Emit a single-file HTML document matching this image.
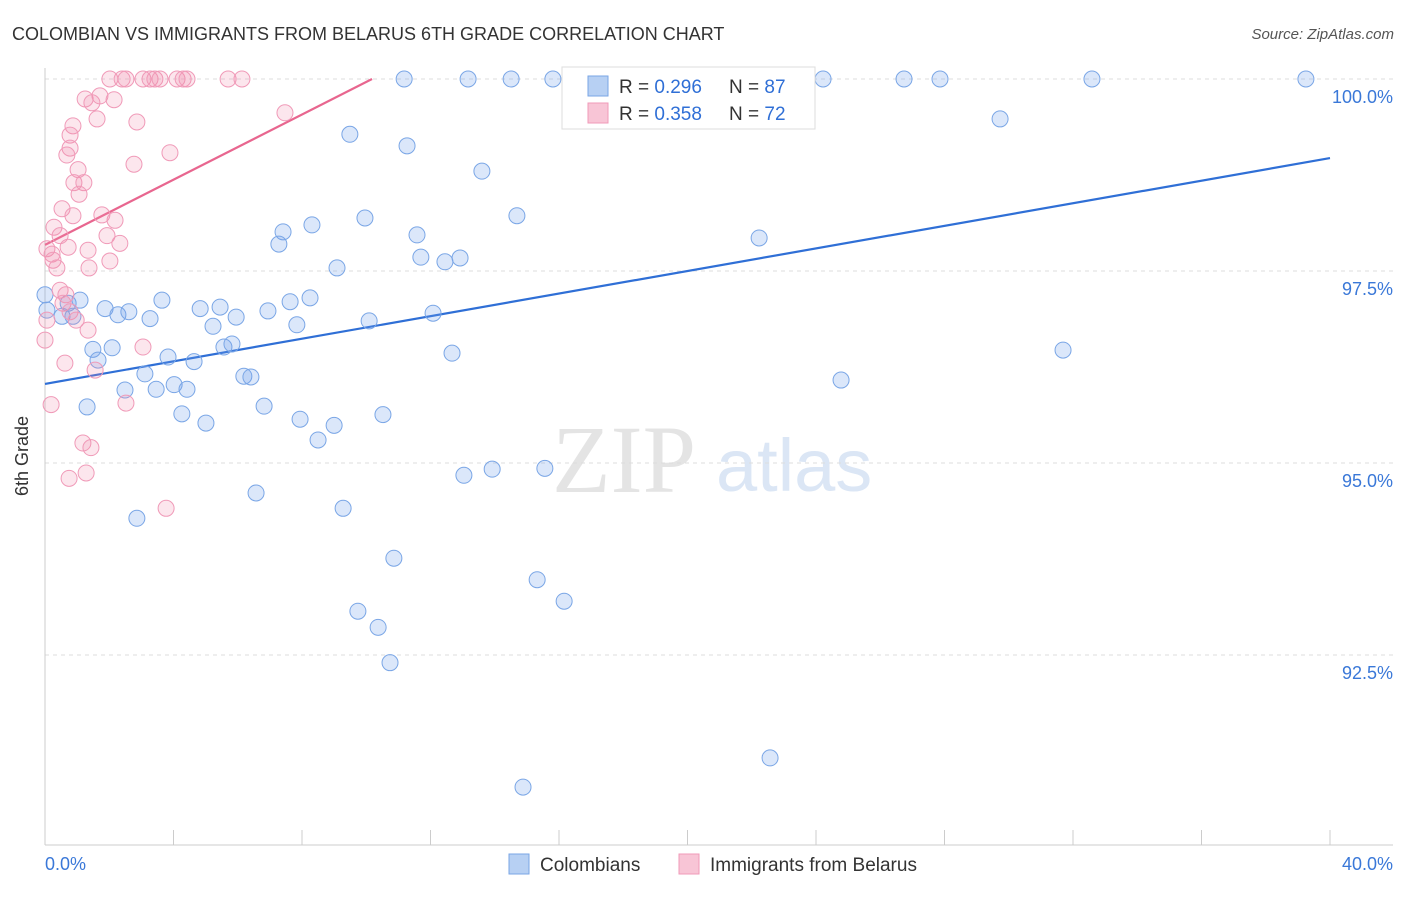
<!DOCTYPE html>
<html><head><meta charset="utf-8"><style>
body{margin:0;background:#fff;font-family:"Liberation Sans",sans-serif;}
</style></head><body>
<svg id="chart" width="1406" height="892" viewBox="0 0 1406 892" xmlns="http://www.w3.org/2000/svg">
<text x="12" y="40" font-size="18" fill="#333">COLOMBIAN VS IMMIGRANTS FROM BELARUS 6TH GRADE CORRELATION CHART</text>
<text x="1394" y="39" font-size="15" fill="#555" font-style="italic" text-anchor="end">Source: ZipAtlas.com</text>
<g>
<text x="552" y="492" font-size="96" fill="#e4e4e4" font-family="Liberation Serif,serif">ZIP</text>
<text x="716" y="491" font-size="74" fill="#dbe6f5">atlas</text>
</g>
<g id="grid"></g>
<g id="axes"></g>
<g id="trends"></g>
<g id="points"></g>
<text x="28" y="456" font-size="18" fill="#333" transform="rotate(-90 28 456)" text-anchor="middle">6th Grade</text>
<g>
<rect x="562" y="67" width="253" height="62" fill="#fff" stroke="#ddd"/>
<rect x="588" y="76" width="20" height="20" fill="#b7d0f3" stroke="#7aa6e6"/>
<text x="619" y="93" font-size="19" fill="#333">R = <tspan fill="#2f6fd6">0.296</tspan></text>
<text x="729" y="93" font-size="19" fill="#333">N = <tspan fill="#2f6fd6">87</tspan></text>
<rect x="588" y="103" width="20" height="20" fill="#f8c5d6" stroke="#f09ab8"/>
<text x="619" y="120" font-size="19" fill="#333">R = <tspan fill="#2f6fd6">0.358</tspan></text>
<text x="729" y="120" font-size="19" fill="#333">N = <tspan fill="#2f6fd6">72</tspan></text>
</g>
<g>
<rect x="509" y="854" width="20" height="20" fill="#b7d0f3" stroke="#7aa6e6"/>
<text x="540" y="871" font-size="19" fill="#333">Colombians</text>
<rect x="679" y="854" width="20" height="20" fill="#f8c5d6" stroke="#f09ab8"/>
<text x="710" y="871" font-size="19" fill="#333">Immigrants from Belarus</text>
</g>
</svg>
<script>
const yTicks=[100,97.5,95,92.5];
const yTickLabels=["100.0%","97.5%","95.0%","92.5%"];
const xEndLabels=["0.0%","40.0%"];
const blueX=[11.18,13.17,14.51,15.81,24.22,26.74,27.86,32.59,39.25,17.71,9.49,11.27,29.73,13.60,14.69,9.96,7.41,8.31,7.28,11.58,11.70,12.45,12.92,22.23,9.09,0,0.06,0.53,0.72,1.09,0.87,1.87,2.27,2.61,3.27,3.64,4.83,5.45,5.23,5.95,6.94,7.63,8.25,7.84,10.09,12.08,1.49,2.09,1.65,3.83,4.64,5.57,5.82,12.67,31.69,3.11,6.19,6.41,2.49,3.46,4.02,4.42,1.31,4.26,5.01,6.82,7.94,8.50,9.00,10.52,24.78,13.04,13.92,15.56,6.57,9.28,2.86,10.86,15.32,16.16,9.74,10.37,10.74,22.57,14.88];
const blueY=[100,100,100,100,100,100,100,100,100,100,99.28,99.13,99.48,98.80,98.22,98.19,98.01,98.10,97.85,97.97,97.68,97.62,97.67,97.93,97.54,97.19,96.99,96.91,97.08,97.12,96.91,97.01,96.93,96.97,96.88,97.12,97.01,97.03,96.78,96.90,96.98,97.10,97.15,96.80,96.85,96.95,96.48,96.50,96.34,96.38,96.32,96.51,96.55,96.43,96.47,96.16,96.13,96.12,95.95,95.96,96.02,95.96,95.73,95.64,95.52,95.74,95.57,95.30,95.49,95.63,96.08,94.84,94.92,94.93,94.61,94.41,94.28,93.76,93.48,93.20,93.07,92.86,92.40,91.16,90.78];
const pinkX=[2.02,2.40,2.52,3.05,3.27,3.42,3.58,4.11,4.30,4.42,5.70,6.13,18.83,1.25,1.71,2.15,1.46,1.62,2.86,0.87,0.78,0.78,0.68,3.89,2.77,1.03,0.90,1.21,1.06,0.53,0.87,1.77,2.18,0.28,1.93,0.47,2.33,0.72,0.06,1.34,0.22,0.25,2.02,0.37,1.37,7.47,0.47,0.65,0.56,0.78,0.97,1.34,0,3.05,0.62,1.56,2.52,0.19,1.18,1.43,1.28,0.75,3.77,0.06];
const pinkY=[100,100,100,100,100,100,100,100,100,100,100,100,100,99.74,99.78,99.73,99.69,99.48,99.44,99.39,99.27,99.10,99.01,99.04,98.89,98.82,98.65,98.65,98.50,98.31,98.22,98.23,98.16,98.07,97.96,97.96,97.86,97.81,97.79,97.77,97.72,97.64,97.63,97.54,97.54,99.56,97.25,97.19,97.08,96.97,96.86,96.73,96.60,96.51,96.30,96.21,95.78,95.76,95.26,95.20,94.87,94.80,94.41,96.86];
const blueTrend=[[0,96.03],[40,98.97]];
const pinkTrend=[[0,97.84],[10.18,100]];

const NS="http://www.w3.org/2000/svg";
const sx=v=>45+v/40*1285;
const sy=v=>79+(100-v)/2.5*192;
function mk(tag,attrs,parent){const e=document.createElementNS(NS,tag);for(const k in attrs)e.setAttribute(k,attrs[k]);document.getElementById(parent).appendChild(e);return e;}
yTicks.forEach((t,i)=>{
 const g=mk('line',{x1:45,x2:1393,y1:sy(t),y2:sy(t),stroke:'#ddd','stroke-dasharray':'4,4'},'grid');
 
 
 const l=mk('text',{x:1393,y:sy(t)+24,'font-size':18,fill:'#3a78d8','text-anchor':'end'},'axes');
 l.textContent=yTickLabels[i];
 
 
});
const ya=mk('line',{x1:45,x2:45,y1:68,y2:845,stroke:'#ccc'},'axes');


const xa=mk('line',{x1:45,x2:1393,y1:845,y2:845,stroke:'#ccc'},'axes');


for(let i=0;i<=10;i++){
 const t=mk('line',{x1:sx(i*4),x2:sx(i*4),y1:830,y2:845,stroke:'#ccc'},'axes');
 
 
}
[[0,'start',45],[40,'end',1393]].forEach((d,i)=>{
 const l=mk('text',{x:d[2],y:870,'font-size':18,fill:'#3a78d8','text-anchor':d[1]},'axes');
 l.textContent=xEndLabels[i];
 
 
});
function dots(xs,ys,fill,stroke,name){
 xs.forEach((x,i)=>{
  const c=mk('circle',{cx:sx(x),cy:sy(ys[i]),r:8,fill:fill,stroke:stroke,'stroke-width':1},'points');
  
  
 });
}
dots(blueX,blueY,'rgba(110,160,235,0.25)','#7aa6e6','colombian-point');
dots(pinkX,pinkY,'rgba(240,140,175,0.22)','#f09ab8','belarus-point');
const bt=mk('line',{x1:sx(blueTrend[0][0]),y1:sy(blueTrend[0][1]),x2:sx(blueTrend[1][0]),y2:sy(blueTrend[1][1]),stroke:'#2f6fd6','stroke-width':2.2},'trends');


const pt=mk('line',{x1:sx(pinkTrend[0][0]),y1:sy(pinkTrend[0][1]),x2:sx(pinkTrend[1][0]),y2:sy(pinkTrend[1][1]),stroke:'#e8668f','stroke-width':2.2},'trends');


</script>
</body></html>
